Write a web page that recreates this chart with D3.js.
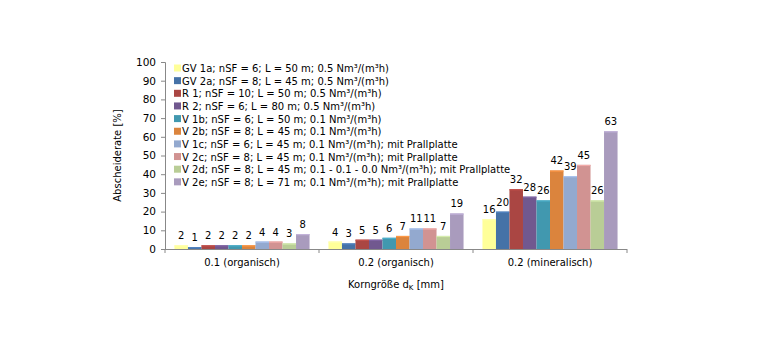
<!DOCTYPE html>
<html><head><meta charset="utf-8">
<script src="https://cdn.jsdelivr.net/npm/d3@7/dist/d3.min.js"></script>
<style>body{margin:0;background:#fff}svg{display:block}text{font-family:"DejaVu Sans",Verdana,sans-serif;fill:#000}</style>
</head><body>
<svg id="c" width="780" height="353"></svg>
<script>
const categories = ["0.1 (organisch)", "0.2 (organisch)", "0.2 (mineralisch)"];
const seriesNames = [
  "GV 1a; nSF = 6; L = 50 m; 0.5 Nm³/(m³h)",
  "GV 2a; nSF = 8; L = 45 m; 0.5 Nm³/(m³h)",
  "R 1; nSF = 10; L = 50 m; 0.5 Nm³/(m³h)",
  "R 2; nSF = 6; L = 80 m; 0.5 Nm³/(m³h)",
  "V 1b; nSF = 6; L = 50 m; 0.1 Nm³/(m³h)",
  "V 2b; nSF = 8; L = 45 m; 0.1 Nm³/(m³h)",
  "V 1c; nSF = 6; L = 45 m; 0.1 Nm³/(m³h); mit Prallplatte",
  "V 2c; nSF = 8; L = 45 m; 0.1 Nm³/(m³h); mit Prallplatte",
  "V 2d; nSF = 8; L = 45 m; 0.1 - 0.1 - 0.0 Nm³/(m³h); mit Prallplatte",
  "V 2e; nSF = 8; L = 71 m; 0.1 Nm³/(m³h); mit Prallplatte"
];
const colors = ["#FFFF99","#4572A7","#AA4643","#71588F","#4198AF","#DB843D","#93A9CF","#D19392","#B9CD96","#A99BBD"];
const values = [
  [2,4,16],
  [1,3,20],
  [2,5,32],
  [2,5,28],
  [2,6,26],
  [2,7,42],
  [4,11,39],
  [4,11,45],
  [3,7,26],
  [8,19,63]
];
const yTicks = [0,10,20,30,40,50,60,70,80,90,100];
const yTitle = "Abscheiderate [%]";

const FS = "10px";
const svg = d3.select("#c");
const L = 165, R = 627, T = 62, B = 249;
const x0 = d3.scaleBand().domain(categories).range([L, R]).paddingInner(0).paddingOuter(0);
const x1 = d3.scaleBand().domain(d3.range(seriesNames.length)).range([0, x0.bandwidth()]).paddingOuter(0.7).paddingInner(0);
const y = d3.scaleLinear().domain([0, 100]).range([B, T]);

// y axis
const ya = svg.append("g").attr("transform", `translate(${L},0)`)
  .call(d3.axisLeft(y).tickValues(yTicks).tickSize(4).tickPadding(5));
ya.select(".domain").attr("stroke", "#888");
ya.selectAll(".tick line").attr("stroke", "#888");
ya.selectAll("text").style("font-size", "10.5px").attr("fill", "#000");

// bars
const g = svg.append("g");
values.forEach((vals, si) => {
  vals.forEach((v, ci) => {
    const bx = x0(categories[ci]) + x1(si);
    g.append("rect").attr("x", bx).attr("y", y(v)).attr("width", x1.bandwidth()).attr("height", B - y(v))
      .attr("fill", colors[si]);
    g.append("rect").attr("x", bx).attr("y", y(v)).attr("width", x1.bandwidth()).attr("height", 1.2)
      .attr("fill", d3.color(colors[si]).brighter(0.4));
    g.append("text").attr("x", bx + x1.bandwidth() / 2).attr("y", y(v) - 6)
      .attr("text-anchor", "middle").style("font-size", FS).text(v);
  });
});

// x axis
const xa = svg.append("g");
xa.append("line").attr("x1", L).attr("x2", R).attr("y1", B + 0.5).attr("y2", B + 0.5).attr("stroke", "#888");
[L, ...categories.map(c => x0(c) + x0.bandwidth())].forEach(px => {
  xa.append("line").attr("x1", px).attr("x2", px).attr("y1", B).attr("y2", B + 4).attr("stroke", "#888");
});
categories.forEach(c => {
  xa.append("text").attr("x", x0(c) + x0.bandwidth() / 2).attr("y", 266).attr("text-anchor", "middle")
    .style("font-size", FS).text(c);
});

// axis titles
svg.append("text").attr("transform", `translate(121,${(T + B) / 2}) rotate(-90)`).attr("text-anchor", "middle")
  .style("font-size", FS).text(yTitle);
const xt = svg.append("text").attr("x", 396).attr("y", 288).attr("text-anchor", "middle").style("font-size", FS);
xt.append("tspan").text("Korngröße d");
xt.append("tspan").attr("dy", 2).style("font-size", "7px").text("K");
xt.append("tspan").attr("dy", -2).text(" [mm]");

// legend
const lg = svg.append("g");
seriesNames.forEach((n, i) => {
  const yy = 68.5 + i * 12.65;
  lg.append("rect").attr("x", 174).attr("y", yy - 4).attr("width", 7).attr("height", 7).attr("fill", colors[i]);
  lg.append("text").attr("x", 182).attr("y", yy + 3.5).style("font-size", FS).text(n);
});
</script>
</body></html>
